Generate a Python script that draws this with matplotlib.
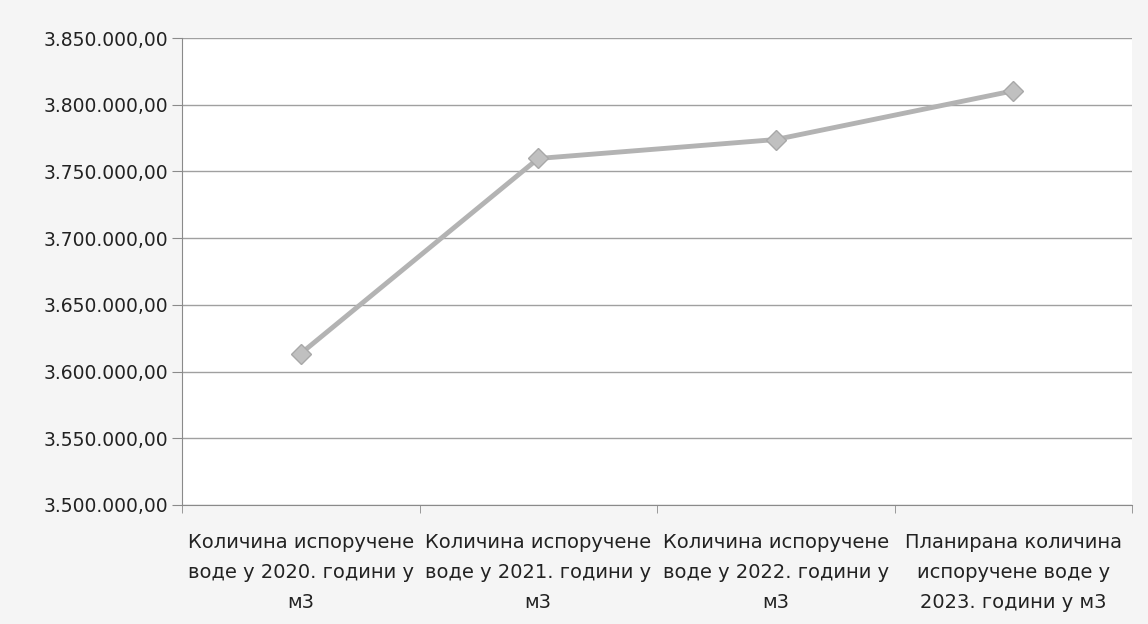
import matplotlib
matplotlib.use("Agg")
import matplotlib.pyplot as plt
from matplotlib.ticker import FuncFormatter, MultipleLocator, FixedLocator

categories = [
    "Количина испоручене\nводе у 2020. години у\nм3",
    "Количина испоручене\nводе у 2021. години у\nм3",
    "Количина испоручене\nводе у 2022. години у\nм3",
    "Планирана количина\nиспоручене воде у\n2023. години у м3",
]
values = [3613500, 3759700, 3773900, 3810400]
y_min, y_max, y_step = 3500000, 3850000, 50000

plt.rcParams['font.family'] = ['DejaVu Sans']

fig = plt.figure(figsize=(11.48, 6.24), dpi=100, facecolor="#f5f5f5")
ax = fig.add_axes([182/1148, 1-505/624, 950/1148, (505-38)/624])
ax.set_facecolor("white")

x = list(range(len(categories)))
ax.plot(x, values, color="#b3b3b3", lw=3.5, marker="D", markersize=10,
        markerfacecolor="#c0c0c0", markeredgecolor="#a8a8a8", markeredgewidth=1, zorder=3)

ax.set_xlim(-0.5, len(categories) - 0.5)
ax.set_ylim(y_min, y_max)
ax.yaxis.set_major_locator(MultipleLocator(y_step))

def fmt(v, pos):
    s = f"{v:,.2f}"
    return s.replace(",", "X").replace(".", ",").replace("X", ".")
ax.yaxis.set_major_formatter(FuncFormatter(fmt))
ax.grid(axis="y", color="#a0a0a0", lw=1)
ax.set_axisbelow(True)

ax.set_xticks(x)
ax.set_xticklabels(categories, fontsize=14, color="#222222", linespacing=1.75)
ax.tick_params(axis="x", length=0, pad=20)
ax.xaxis.set_minor_locator(FixedLocator([i - 0.5 for i in range(len(categories) + 1)]))
ax.tick_params(axis="x", which="minor", length=6, color="#8a8a8a")
ax.tick_params(axis="y", labelsize=13.5, colors="#222222", length=7, color="#8a8a8a", pad=3)

for s in ["top", "right"]:
    ax.spines[s].set_visible(False)
ax.spines["left"].set_color("#8a8a8a")
ax.spines["bottom"].set_color("#8a8a8a")

fig.savefig("out.png", dpi=100, facecolor=fig.get_facecolor())
